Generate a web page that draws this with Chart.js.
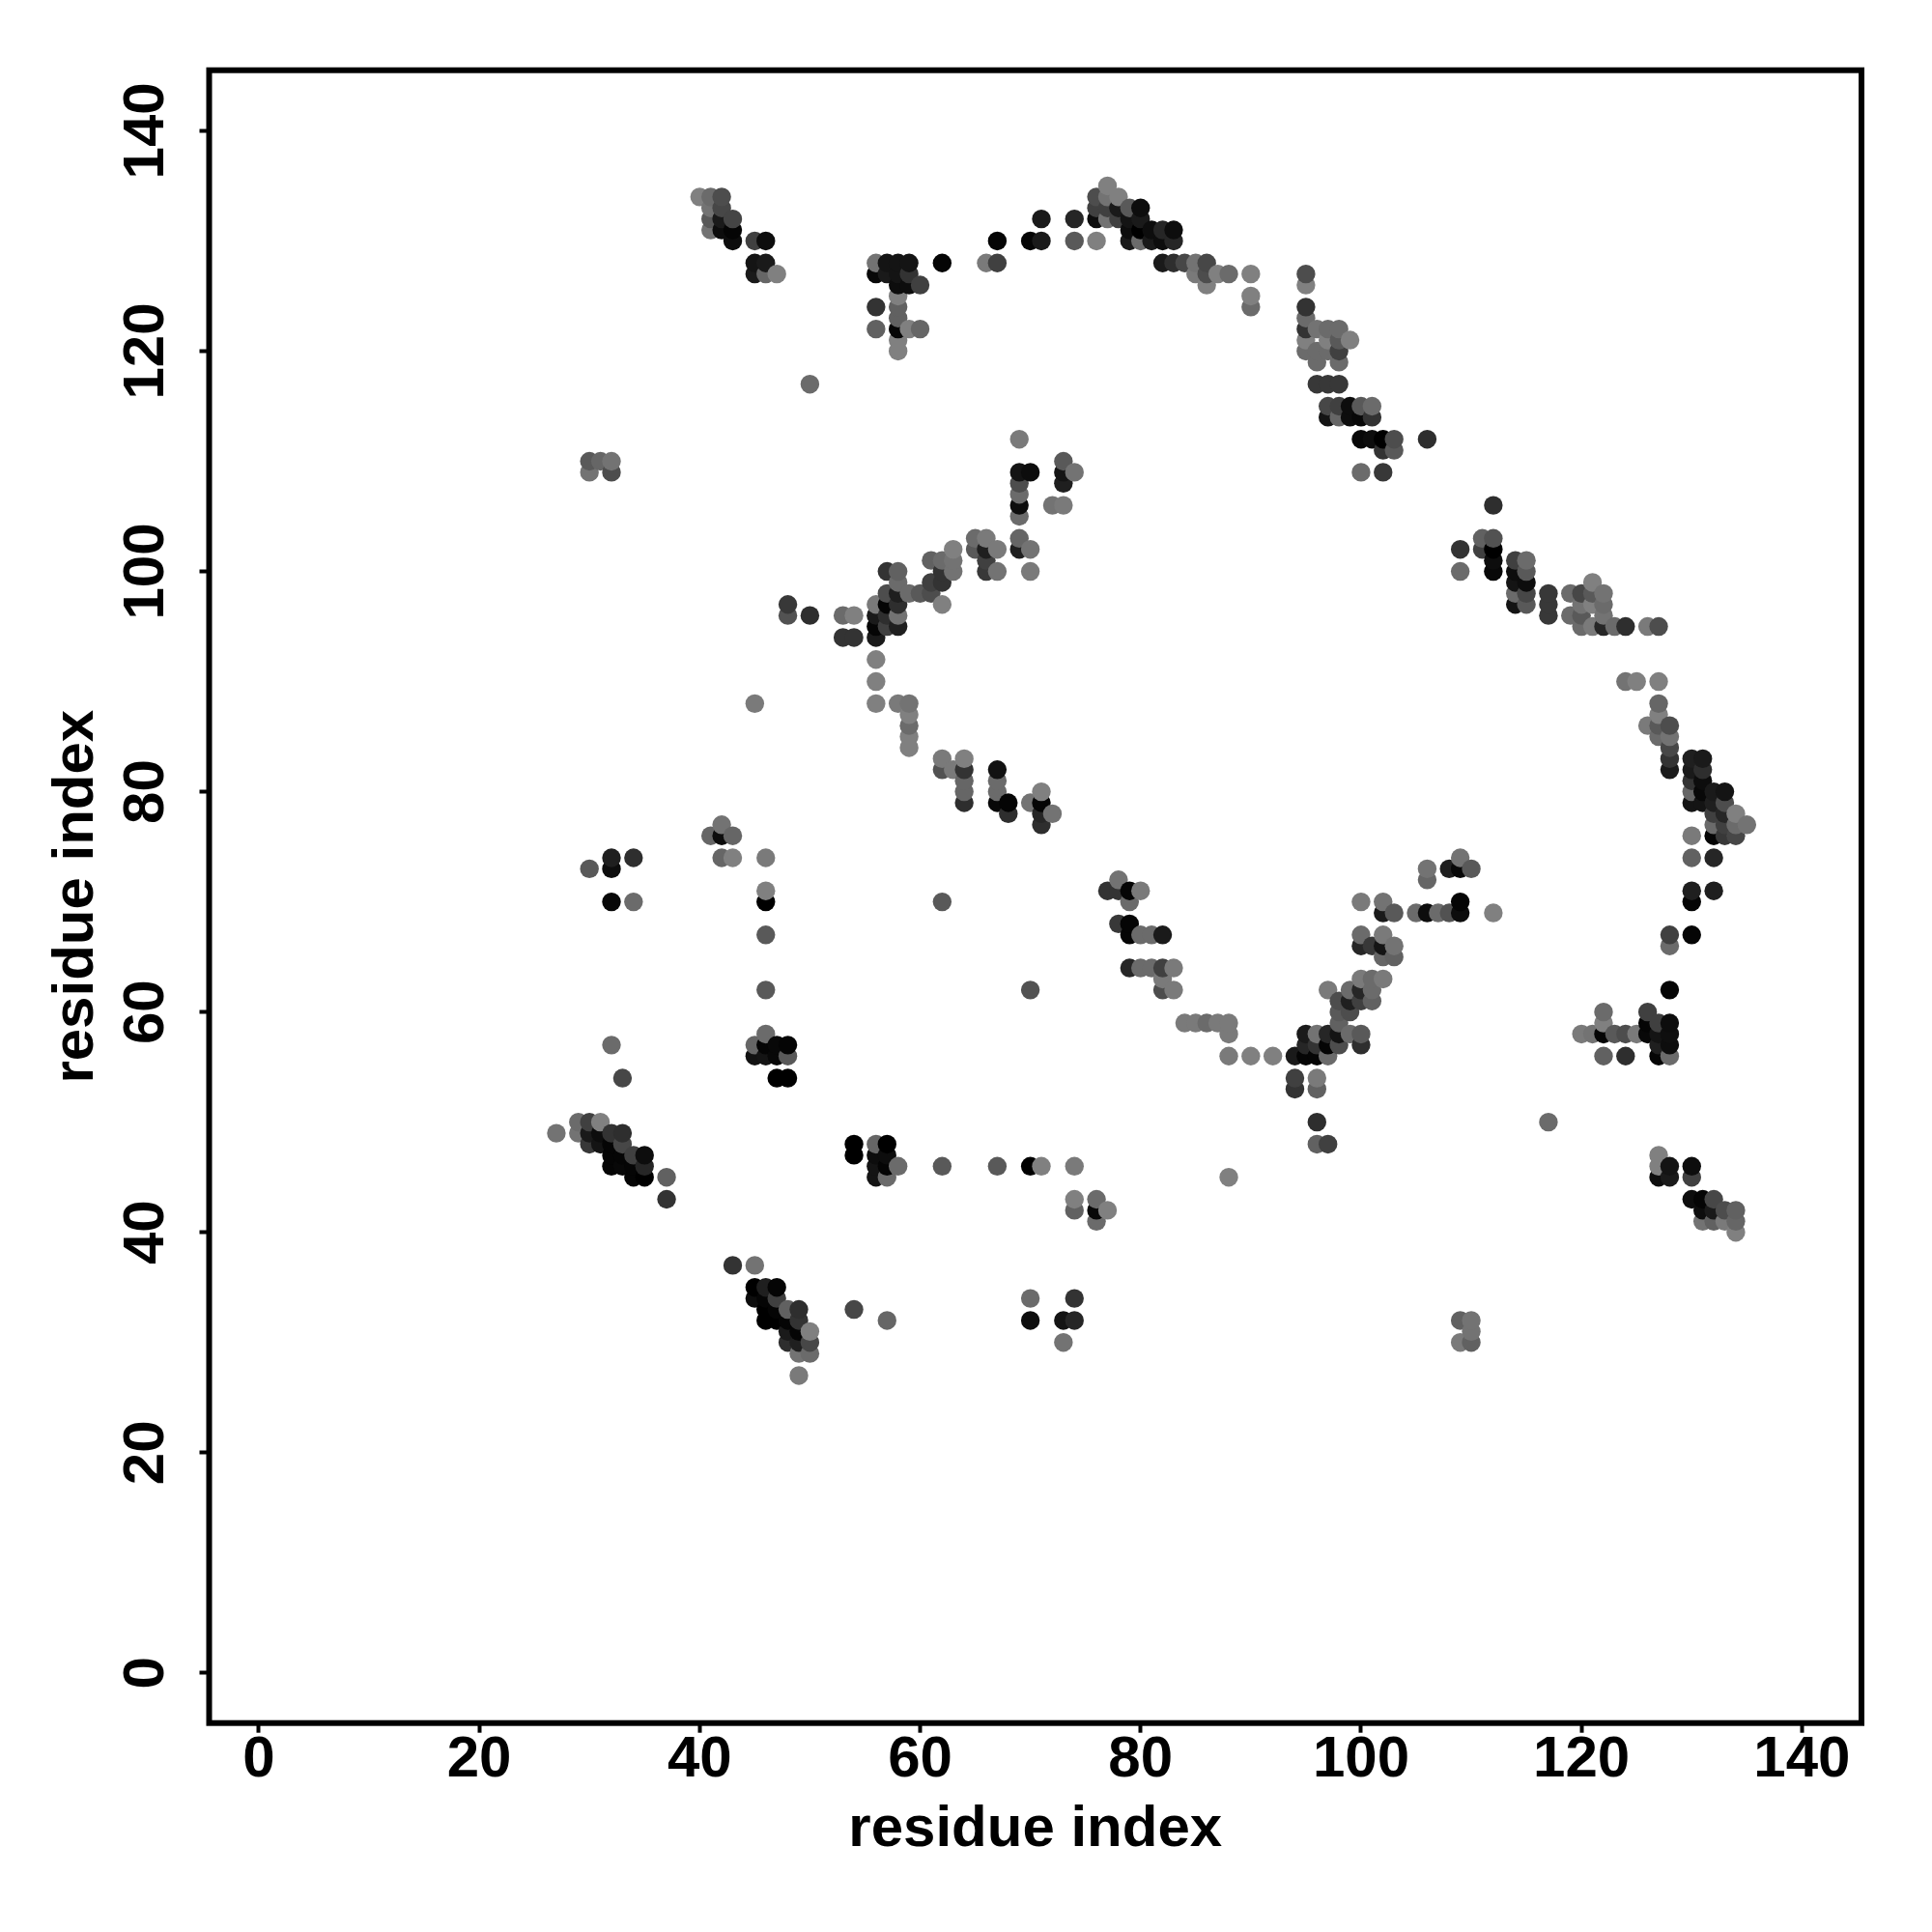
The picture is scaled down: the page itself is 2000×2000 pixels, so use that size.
<!DOCTYPE html>
<html>
<head>
<meta charset="utf-8">
<script src="https://cdn.jsdelivr.net/npm/chart.js@4"></script>
<style>
  html, body { margin: 0; padding: 0; background: #fff; }
  canvas { display: block; }
</style>
</head>
<body>
<canvas id="contactMap" width="2000" height="2000"></canvas>
<script>
const tickValues = [0, 20, 40, 60, 80, 100, 120, 140];
const axisLabel = 'residue index';

// one entry per row of the map: residue j, the residues i it pairs with, and the shade of each
const rowJ = [135, 134, 133, 132, 131, 130, 128, 127, 126, 125, 124, 123, 122, 121, 120, 119, 117, 115, 114, 112, 111, 110, 109,
  108, 107, 106, 105, 103, 102, 101, 100, 99, 98, 97, 96, 95, 94, 92, 90, 88, 87, 86, 85, 84, 83, 82, 81, 80, 79, 78, 77, 76,
  74, 73, 72, 71, 70, 69, 68, 67, 66, 65, 64, 63, 62, 61, 60, 59, 58, 57, 56, 54, 53, 50, 49, 48, 47, 46, 45, 43, 42, 41, 40,
  37, 35, 34, 33, 32, 31, 30, 29, 27];

const rowI = [
  [77],
  [40, 41, 42, 76, 77, 78],
  [41, 42, 76, 77, 78, 79, 80],
  [41, 42, 43, 71, 74, 76, 77, 78, 79, 80],
  [41, 42, 43, 79, 80, 81, 82, 83],
  [43, 45, 46, 67, 70, 71, 74, 76, 79, 80, 81, 82, 83],
  [45, 46, 56, 57, 58, 59, 62, 66, 67, 82, 83, 84, 85, 86],
  [45, 46, 47, 56, 57, 58, 59, 85, 86, 87, 88, 90, 95],
  [58, 59, 60, 86, 95],
  [58, 90],
  [56, 58, 90, 95],
  [58, 95],
  [56, 58, 59, 60, 95, 96, 97, 98],
  [58, 95, 97, 98, 99],
  [58, 95, 96, 97, 98],
  [96, 98],
  [50, 96, 97, 98],
  [97, 98, 99, 100, 101],
  [97, 98, 99, 100, 101],
  [69, 100, 101, 102, 103, 106],
  [102, 103],
  [30, 31, 32, 73],
  [30, 32, 69, 70, 73, 74, 100, 102],
  [69, 73],
  [69],
  [69, 72, 73, 112],
  [69],
  [65, 66, 69, 111, 112],
  [63, 65, 66, 67, 69, 70, 109, 111, 112],
  [61, 62, 63, 66, 112, 114, 115],
  [57, 58, 62, 63, 66, 67, 70, 109, 112, 114, 115],
  [58, 61, 62, 114, 115, 121],
  [57, 58, 59, 60, 61, 114, 115, 117, 119, 120, 121, 122],
  [48, 56, 57, 58, 62, 114, 115, 117, 120, 121, 122],
  [48, 50, 53, 54, 56, 57, 58, 117, 119, 120, 122],
  [56, 57, 58, 120, 121, 122, 123, 124, 126, 127],
  [53, 54, 56],
  [56],
  [56, 124, 125, 127],
  [45, 56, 58, 59, 127],
  [59, 127],
  [59, 126, 127, 128],
  [59, 127, 128],
  [59, 128],
  [62, 64, 128, 130, 131],
  [62, 63, 64, 67, 128, 130, 131],
  [64, 67, 130, 131],
  [64, 67, 71, 130, 131, 132, 133],
  [64, 67, 68, 70, 71, 130, 131, 132, 133],
  [68, 71, 72, 132, 133, 134],
  [42, 71, 132, 133, 134, 135],
  [41, 42, 43, 130, 132, 133, 134],
  [32, 34, 42, 43, 46, 109, 130, 132],
  [30, 32, 106, 108, 109, 110],
  [78, 106],
  [46, 77, 78, 79, 80, 130, 132],
  [32, 34, 46, 62, 79, 100, 102, 109, 130],
  [102, 103, 105, 106, 107, 108, 109, 112],
  [78, 79],
  [46, 79, 80, 81, 82, 100, 102, 128, 130],
  [100, 101, 102, 103, 128],
  [102, 103],
  [79, 80, 81, 82, 83],
  [82, 100, 101, 102],
  [46, 70, 82, 83, 97, 99, 100, 101, 128],
  [98, 99, 100, 101],
  [98, 99, 122, 126],
  [84, 85, 86, 87, 88, 98, 122, 126, 127, 128],
  [46, 88, 95, 96, 97, 98, 99, 100, 120, 121, 122, 123, 124, 125, 126, 127, 128],
  [32, 45, 46, 47, 48, 95, 96, 97, 98, 100, 127, 128],
  [45, 46, 47, 48, 88, 90, 92, 94, 95, 96, 97, 122, 124, 127, 128],
  [33, 47, 48, 94, 96],
  [94, 96],
  [29, 30, 31, 96, 117],
  [27, 29, 30, 31, 32, 33],
  [30, 31, 32, 33, 54, 56, 57, 96, 97],
  [32, 33, 34, 35, 54, 56, 57, 127],
  [32, 33, 34, 35, 56, 57, 58, 62, 67, 70, 71, 74, 127, 128, 130],
  [34, 35, 37, 56, 57, 88, 127, 128, 130],
  [37, 74, 76, 130, 131, 132],
  [74, 76, 77, 131, 132, 133, 134],
  [76, 131, 132, 133, 134],
  [134],
  [43, 45],
  [45, 46, 47],
  [45, 46, 47, 70, 74],
  [46, 47, 48, 49, 54],
  [46, 47, 48, 49, 57, 70, 73, 74, 109, 110],
  [48, 49, 50, 110],
  [48, 49, 50, 73, 109, 110],
  [49, 50],
  [49]
];

const rowShade = [
  [.5],
  [.5, .42, .3, .3, .45, .5],
  [.45, .28, .25, .25, .1, .35, .05],
  [.35, .1, .27, .1, .15, .05, .45, .25, .08, .1],
  [.45, .05, .02, .05, 0, .05, .15, .05],
  [.05, .25, .05, .02, .02, .1, .35, .5, .1, .42, .1, .05, .15],
  [.08, .1, .45, .08, .08, .08, .02, .48, .25, .1, .18, .28, .45, .28],
  [.1, .4, .5, .03, .1, .08, .2, .48, .3, .5, .42, .5, .3],
  [.05, .05, .25, .5, .5],
  [.5, .5],
  [.2, .38, .42, .2],
  [.38, .42],
  [.38, .02, .5, .4, .2, .45, .42, .42],
  [.5, .5, .5, .35, .5],
  [.5, .42, .42, .42, .25],
  [.42, .42],
  [.42, .22, .22, .22],
  [.28, .25, .05, .35, .42],
  [.08, .4, .05, .03, .2],
  [.48, .03, .05, 0, .3, .18],
  [.2, .35],
  [.35, .4, .45, .35],
  [.45, .3, .08, .05, .08, .45, .42, .22],
  [.3, .12],
  [.42],
  [.05, .45, .48, .18],
  [.42],
  [.42, .48, .4, .38, .32],
  [.5, .35, .12, .48, .12, .45, .2, .25, 0],
  [.38, .42, .45, .25, .05, .25, .42],
  [.2, .38, .2, .45, .22, .45, .48, .42, .03, .05, .35],
  [.42, .25, .2, .08, .05, .5],
  [.3, .12, .42, .35, .3, .42, .28, .22, .42, .28, .35, .45],
  [.22, .48, .02, .18, .5, .08, .35, .22, .45, .5, .42],
  [.32, .18, .42, .5, .1, .18, .45, .22, .42, .35, .45],
  [.02, .25, .12, .42, .48, .15, .42, .18, .48, .3],
  [.2, .2, .1],
  [.5],
  [.5, .45, .5, .5],
  [.48, .5, .48, .45, .4],
  [.5, .5],
  [.42, .48, .35, .3],
  [.5, .42, .45],
  [.5, .28],
  [.48, .5, .2, .12, .1],
  [.32, .48, .2, .07, .1, .1, .18],
  [.4, .42, .2, .05],
  [.4, .42, .5, .4, .03, .1, .08],
  [.18, .03, .02, .45, .02, .08, .08, .12, .3],
  [.18, .15, .45, .25, .15, .5],
  [.45, .18, .42, .25, .42, .45],
  [.4, .05, .4, .48, .02, .22, .28],
  [.12, .18, .4, .5, .48, .45, .38, .15],
  [.35, .05, .45, .12, .03, .35],
  [.45, .4],
  [.5, .2, .2, .02, .48, .12, .12],
  [.03, .42, 0, .35, .42, .48, .45, .02, .02],
  [.1, .35, .42, .05, .42, .32, .05, .5],
  [.22, .02],
  [.35, .02, .42, .42, .1, .42, .48, .25, .02],
  [.15, .22, .08, .45, .42],
  [.4, .38],
  [.15, .42, .42, .25, .48],
  [.48, .48, .42, .48],
  [.35, .32, .3, .48, .48, .42, .15, .42, .02],
  [.3, .12, .25, .38],
  [.35, .3, .42, .25],
  [.48, .48, .42, .48, .48, .38, .5, .02, .25, .05],
  [.42, .48, .1, .45, .15, .08, .42, .35, .48, .45, .02, .35, .3, .48, .03, .08, .06],
  [.42, .4, .02, .03, .02, .15, .2, .02, .3, .18, .12, .05],
  [.07, .08, .03, .35, .48, .5, .5, .1, .02, .02, .42, .38, .18, .02, .42],
  [.28, 0, 0, .25, .48],
  [.2, .38],
  [.42, .25, .5, .18, .42],
  [.45, .45, .1, .05, .2, .18],
  [.22, .08, .02, .28, 0, .4, 0, .38, .25],
  [.02, .02, .25, .05, 0, .05, .05, .5],
  [.02, .03, .02, .15, .08, .02, .42, .35, .35, 0, .5, .48, .5, .08, .05],
  [.02, 0, .38, .08, .42, .5, .05, .1, .25],
  [.2, .5, .42, .05, .02, .28],
  [.38, .03, .5, .05, .1, .3, .38],
  [.42, .45, .38, .48, .4],
  [.5],
  [.2, .45],
  [0, .12, .02],
  [.05, .02, .25, .42, .2],
  [0, .02, .38, .18, .28],
  [0, 0, .02, .2, .4, .05, .08, .15, .38, .45],
  [.1, .02, .5, .45],
  [.18, .12, .28, .45, .48, .38],
  [.45, .42],
  [.48]
];

const contacts = [];
rowJ.forEach((j, r) => {
  rowI[r].forEach((i, k) => contacts.push({ x: i, y: j, shade: rowShade[r][k] }));
});
// later residues are painted over earlier ones
contacts.sort((a, b) => a.x - b.x || a.y - b.y);

function grey(v) {
  const g = Math.round(v * 255);
  return `rgb(${g},${g},${g})`;
}

const boxFrame = {
  id: 'boxFrame',
  afterDraw(chart) {
    const a = chart.chartArea;
    const ctx = chart.ctx;
    ctx.save();
    ctx.strokeStyle = '#000';
    ctx.lineWidth = 6;
    ctx.strokeRect(a.left, a.top, a.right - a.left, a.bottom - a.top);
    ctx.restore();
  }
};

const labelFont = { family: '"Liberation Sans", Arial, sans-serif', size: 60, weight: 'bold' };
const tickGrid = { drawOnChartArea: false, drawTicks: true, tickLength: 10, tickWidth: 4, tickColor: '#000' };

new Chart(document.getElementById('contactMap').getContext('2d'), {
  type: 'scatter',
  data: {
    datasets: [{
      data: contacts,
      pointRadius: 9.7,
      pointBorderWidth: 0,
      pointBackgroundColor: contacts.map(c => grey(c.shade))
    }]
  },
  plugins: [boxFrame],
  options: {
    responsive: false,
    animation: false,
    devicePixelRatio: 1,
    layout: { padding: { left: 0, top: 72.7, right: 73, bottom: 0 } },
    plugins: { legend: { display: false }, tooltip: { enabled: false } },
    scales: {
      x: {
        type: 'linear',
        min: -4.5,
        max: 145.4,
        grid: tickGrid,
        border: { display: false },
        afterBuildTicks: s => { s.ticks = tickValues.map(v => ({ value: v })); },
        afterFit: s => { s.height = 216.3; },
        ticks: { color: '#000', font: labelFont, padding: -7, maxRotation: 0, minRotation: 0, autoSkip: false },
        title: { display: true, text: axisLabel, color: '#000', font: labelFont, padding: { top: 0, bottom: 70 } }
      },
      y: {
        type: 'linear',
        min: -4.55,
        max: 145.5,
        grid: tickGrid,
        border: { display: false },
        afterBuildTicks: s => { s.ticks = tickValues.map(v => ({ value: v })); },
        afterFit: s => { s.width = 216.5; },
        ticks: { color: '#000', font: labelFont, padding: 4, minRotation: 90, maxRotation: 90, crossAlign: 'center', autoSkip: false },
        title: { display: true, text: axisLabel, color: '#000', font: labelFont, padding: { top: 43, bottom: 0 } }
      }
    }
  }
});
</script>
</body>
</html>
